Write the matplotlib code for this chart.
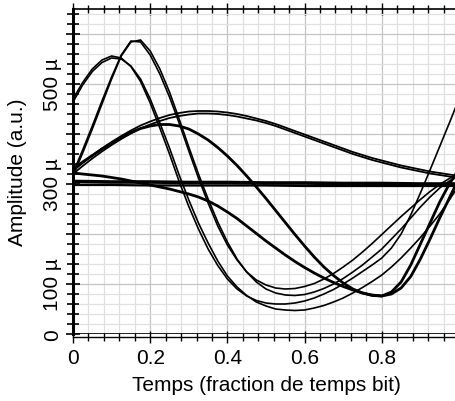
import matplotlib
matplotlib.use('Agg')
import matplotlib.pyplot as plt
from matplotlib.ticker import MultipleLocator, FixedLocator

plt.rcParams['font.family'] = ['Liberation Sans', 'DejaVu Sans']

# time axis (fraction of bit period); amplitudes in micro-units
t = [0.0, 0.025, 0.05, 0.075, 0.1, 0.125, 0.15, 0.175, 0.2, 0.225,
     0.25, 0.275, 0.3, 0.325, 0.35, 0.375, 0.4, 0.425, 0.45, 0.475,
     0.5, 0.525, 0.55, 0.575, 0.6, 0.625, 0.65, 0.675, 0.7, 0.725,
     0.75, 0.775, 0.8, 0.825, 0.85, 0.875, 0.9, 0.925, 0.95, 0.975, 1.0]
t_flat = [0.0, 0.1, 0.2, 0.3, 0.4, 0.5, 0.6, 0.7, 0.8, 0.9, 1.0]

a1 = [470, 503, 530, 548, 556, 552, 535, 505, 462, 412,
      360, 305, 255, 210, 170, 137, 110, 90, 76, 67,
      62, 60, 60, 62, 66, 72, 80, 89, 100, 112,
      125, 138, 152, 172, 200, 238, 282, 328, 375, 422, 470]
a2 = [464, 498, 525, 543, 552, 550, 536, 510, 470, 422,
      372, 318, 268, 222, 182, 146, 116, 94, 77, 64,
      56, 50, 48, 47, 48, 52, 57, 64, 72, 82,
      93, 105, 118, 134, 152, 172, 193, 216, 240, 268, 298]
b1 = [322, 368, 416, 466, 514, 558, 586, 584, 558, 520,
      474, 422, 366, 312, 262, 216, 178, 148, 124, 108,
      98, 92, 90, 91, 95, 101, 110, 121, 134, 148,
      164, 181, 199, 217, 235, 252, 269, 285, 299, 311, 322]
b2 = [316, 362, 410, 460, 510, 556, 584, 588, 566, 530,
      484, 430, 374, 320, 270, 224, 184, 150, 124, 104,
      90, 82, 78, 77, 79, 84, 91, 100, 111, 124,
      138, 154, 170, 190, 210, 232, 254, 274, 292, 306, 316]
c1 = [330, 344, 357, 370, 382, 393, 403, 411, 416, 419,
      419, 416, 410, 400, 388, 373, 356, 337, 316, 294,
      271, 247, 223, 199, 176, 154, 134, 117, 102, 90,
      82, 77, 76, 84, 104, 138, 180, 222, 264, 300, 330]
d1 = [326, 342, 357, 371, 384, 396, 407, 417, 425, 432,
      438, 442, 445, 446, 446, 445, 443, 440, 436, 431,
      426, 420, 413, 406, 399, 392, 385, 378, 371, 364,
      358, 352, 347, 342, 337, 333, 329, 325, 322, 319, 316]
d2 = [320, 336, 351, 365, 378, 390, 401, 411, 419, 426,
      432, 436, 439, 441, 441, 440, 438, 435, 431, 427,
      422, 416, 409, 402, 395, 388, 381, 374, 367, 360,
      354, 348, 343, 338, 333, 329, 325, 321, 318, 315, 312]
g1 = [322, 320, 318, 316, 313, 310, 306, 302, 298, 294,
      290, 285, 280, 274, 266, 256, 244, 231, 216, 201,
      186, 172, 158, 145, 133, 122, 112, 103, 95, 88,
      82, 78, 76, 80, 92, 115, 150, 190, 232, 272, 312]
e1 = [305, 304, 304, 303, 303, 302, 302, 301, 301, 300, 300]
e2 = [298, 298, 297, 297, 297, 297, 296, 296, 296, 296, 296]

series = [(t, a1, 1.2), (t, a2, 1.2), (t, b1, 1.2), (t, b2, 1.2), (t, c1, 2.0),
          (t, d1, 1.3), (t, d2, 1.3), (t, g1, 2.0), (t_flat, e1, 2.6), (t_flat, e2, 1.6)]

ytick_vals = [0, 100, 200, 300, 400, 500, 600]
ytick_labels = ['0', '100 \u00b5', '', '300 \u00b5', '', '500 \u00b5', '']
xtick_vals = [0, 0.2, 0.4, 0.6, 0.8, 1.0]
xtick_labels = ['0', '0.2', '0.4', '0.6', '0.8', '1']

fig = plt.figure(figsize=(4.56, 4.02), dpi=100)
ax = fig.add_axes([73 / 456, 67 / 402, 386 / 456, 325 / 402])

for x, y, lw in series:
    ax.plot(x, y, color='black', linewidth=lw, solid_joinstyle='round', zorder=3)

ax.axhline(0, color='black', linewidth=1.2, zorder=4)

ax.set_xlim(0, 1)
ax.set_ylim(0, 650)

ax.xaxis.set_major_locator(FixedLocator(xtick_vals))
ax.set_xticklabels(xtick_labels)
ax.xaxis.set_minor_locator(MultipleLocator(0.04))
ax.yaxis.set_major_locator(FixedLocator(ytick_vals))
ax.set_yticklabels(ytick_labels, rotation=90, va='center')
ax.yaxis.set_minor_locator(MultipleLocator(20))

ax.grid(True, which='major', color='#c4c4c4', linewidth=0.9, zorder=0)
ax.grid(True, which='minor', color='#e0e0e0', linewidth=0.9, zorder=0)
ax.set_axisbelow(True)

ax.spines['right'].set_visible(False)
ax.spines['left'].set_linewidth(2.2)
ax.spines['top'].set_linewidth(1.2)
ax.spines['bottom'].set_linestyle((0, (1, 1)))
ax.spines['bottom'].set_linewidth(1.0)
ax.spines['bottom'].set_position(('outward', 2))

ax.tick_params(axis='both', which='both', colors='black', labelsize=15)
ax.tick_params(axis='y', which='major', direction='inout', length=10, width=1.2, pad=3)
ax.tick_params(axis='y', which='minor', direction='inout', length=8, width=1.2)
ax.tick_params(axis='x', which='major', direction='inout', length=8, width=1.0, pad=4,
               top=True, labeltop=False)
ax.tick_params(axis='x', which='minor', direction='inout', length=6, width=1.0, top=True)

ax.set_xlabel('Temps (fraction de temps bit)', fontsize=15)
ax.set_ylabel('Amplitude (a.u.)', fontsize=15)
ax.xaxis.set_label_coords(0.5, -0.125)
ax.yaxis.set_label_coords(-0.12, 0.5)

plt.savefig('out.png', dpi=100)
plt.close()
